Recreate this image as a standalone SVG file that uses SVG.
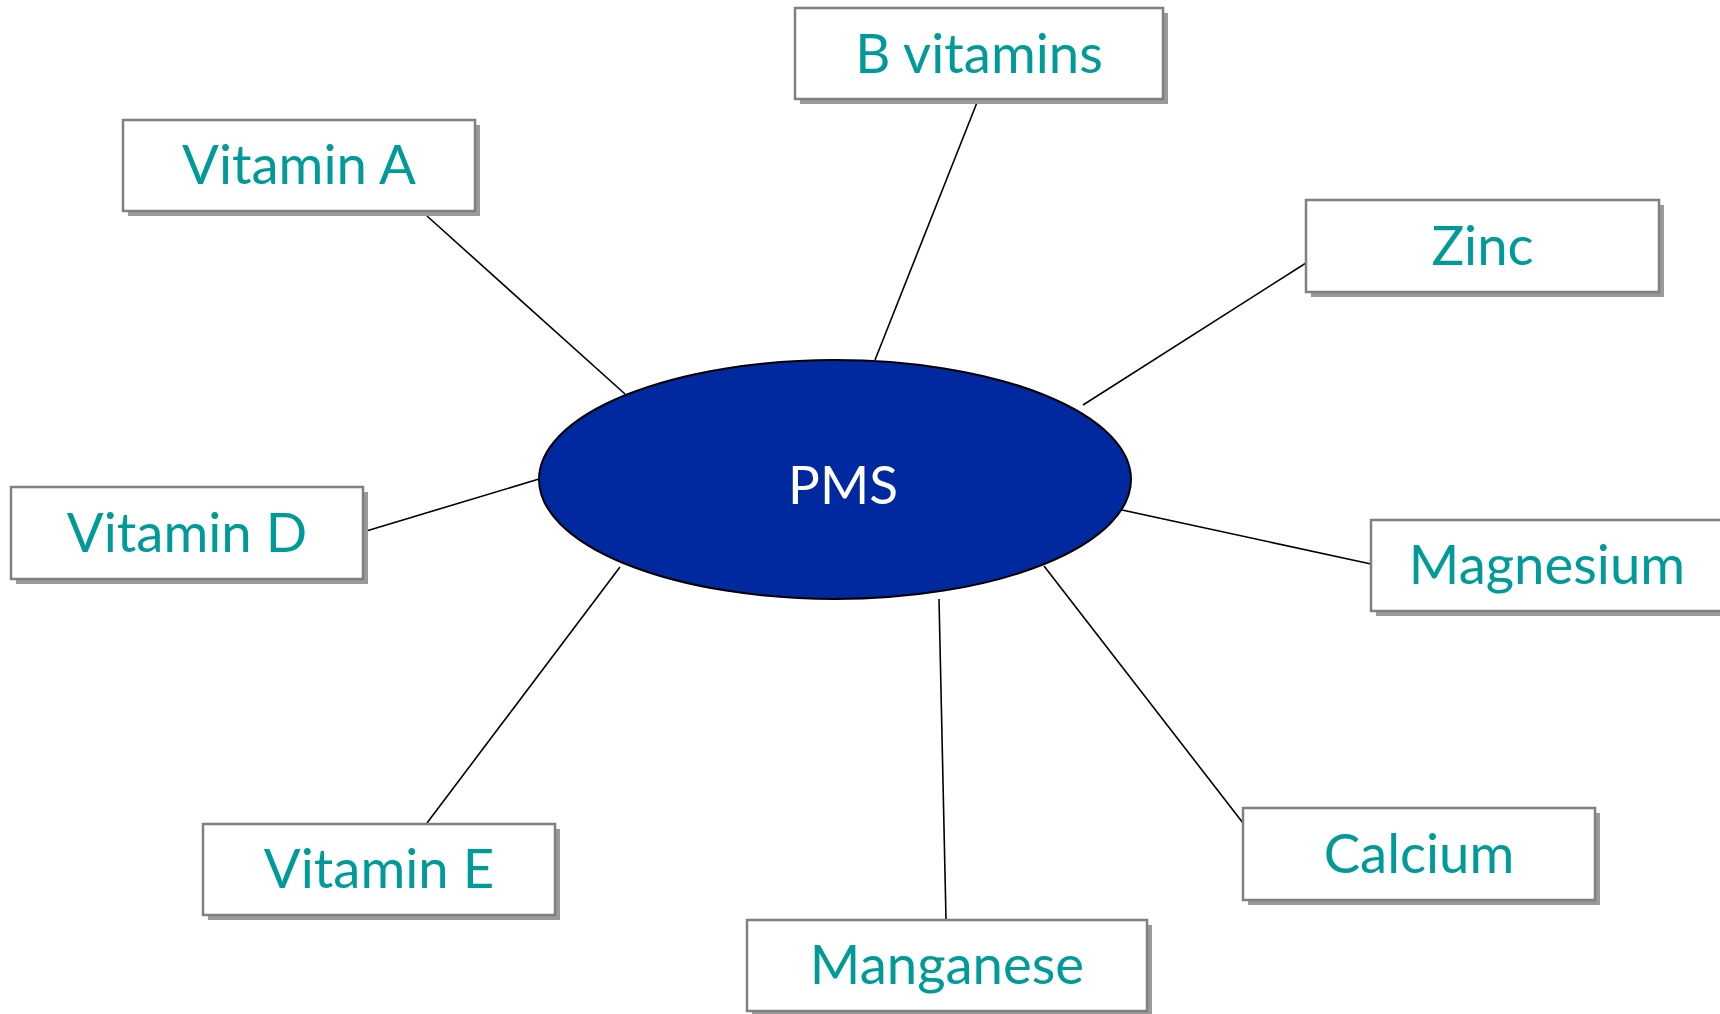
<svg xmlns="http://www.w3.org/2000/svg" width="1720" height="1014" viewBox="0 0 1720 1014">
<style>
.box{fill:#ffffff;stroke:#808080;stroke-width:2.5}
.shadow{fill:#9a9a9a}
.lbl{font-family:Lato,"Open Sans",sans-serif;font-size:54.5px;fill:#009b99;text-anchor:middle}
.conn line{stroke:#000;stroke-width:1.6}
</style>
<rect width="1720" height="1014" fill="#fff"/>
<g id="connectors" class="conn">
<line x1="427" y1="216" x2="625" y2="394"/>
<line x1="978" y1="100" x2="875" y2="360"/>
<line x1="1306" y1="263" x2="1083" y2="405"/>
<line x1="363" y1="532" x2="539" y2="479"/>
<line x1="1371" y1="564" x2="1099" y2="505"/>
<line x1="1243" y1="823" x2="1044" y2="566"/>
<line x1="946" y1="919" x2="939" y2="599"/>
<line x1="427" y1="823" x2="620" y2="567"/>
</g>
<g id="pms">
<ellipse cx="835" cy="479.5" rx="296" ry="119.5" fill="#0029a0" stroke="#000" stroke-width="2"/>
<text x="843" y="504" font-family="Lato,'Open Sans',sans-serif" font-size="53" fill="#fff" text-anchor="middle">PMS</text>
</g>
<g id="b-vitamins">
<rect class="shadow" x="800" y="13" width="368" height="91"/>
<rect class="box" x="795" y="8" width="368" height="91"/>
<text class="lbl" x="979" y="73">B vitamins</text>
</g>
<g id="vitamin-a">
<rect class="shadow" x="128" y="125" width="352" height="91"/>
<rect class="box" x="123" y="120" width="352" height="91"/>
<text class="lbl" x="299" y="184">Vitamin A</text>
</g>
<g id="zinc">
<rect class="shadow" x="1311" y="205" width="353" height="92"/>
<rect class="box" x="1306" y="200" width="353" height="92"/>
<text class="lbl" x="1482.5" y="264.5">Zinc</text>
</g>
<g id="vitamin-d">
<rect class="shadow" x="16" y="492" width="352" height="92"/>
<rect class="box" x="11" y="487" width="352" height="92"/>
<text class="lbl" x="187" y="552">Vitamin D</text>
</g>
<g id="magnesium">
<rect class="shadow" x="1376" y="525" width="352" height="91"/>
<rect class="box" x="1371" y="520" width="352" height="91"/>
<text class="lbl" x="1547" y="584">Magnesium</text>
</g>
<g id="vitamin-e">
<rect class="shadow" x="208" y="829" width="352" height="91"/>
<rect class="box" x="203" y="824" width="352" height="91"/>
<text class="lbl" x="379" y="888">Vitamin E</text>
</g>
<g id="calcium">
<rect class="shadow" x="1248" y="813" width="352" height="92"/>
<rect class="box" x="1243" y="808" width="352" height="92"/>
<text class="lbl" x="1419" y="872.5">Calcium</text>
</g>
<g id="manganese">
<rect class="shadow" x="752" y="925" width="400" height="91"/>
<rect class="box" x="747" y="920" width="400" height="91"/>
<text class="lbl" x="947" y="984">Manganese</text>
</g>
</svg>
